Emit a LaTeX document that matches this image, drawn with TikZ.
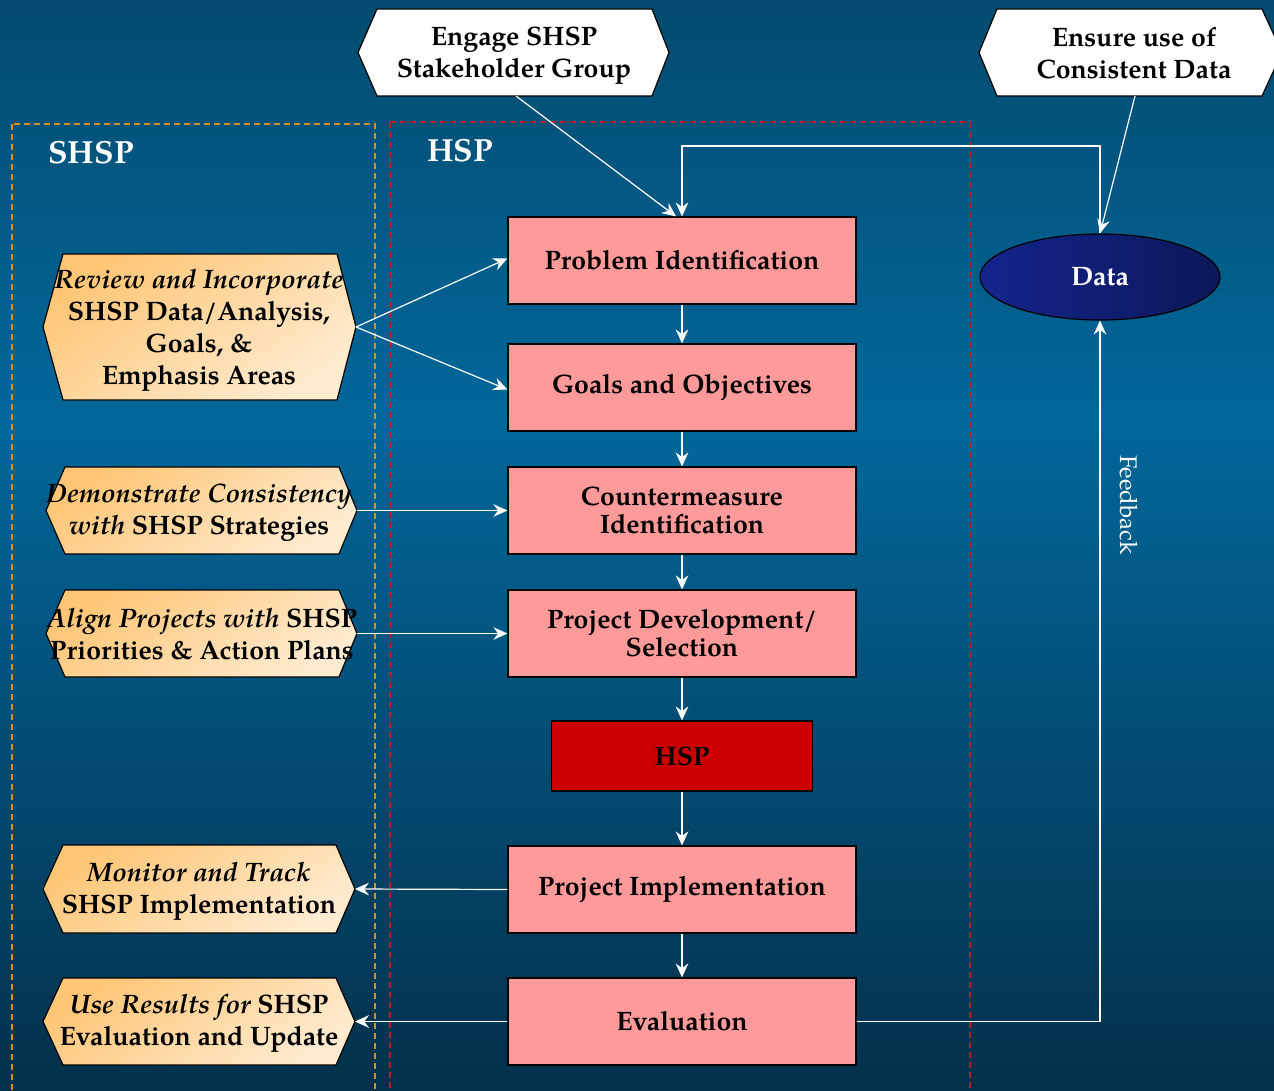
\documentclass[tikz,border=0pt]{standalone}
\usepackage{fontspec}
\setmainfont{TeX Gyre Pagella}
\usetikzlibrary{arrows.meta,shapes.geometric}
\definecolor{bgtop}{HTML}{034B6F}
\definecolor{bgmid}{HTML}{02679B}
\definecolor{bgbot}{HTML}{03304A}
\definecolor{pinkbox}{HTML}{FF9A9A}
\definecolor{redbox}{HTML}{CC0000}
\definecolor{orA}{HTML}{FFC676}
\definecolor{orB}{HTML}{FFEBD0}
\definecolor{dashor}{HTML}{D8901E}
\definecolor{dashred}{HTML}{B0202A}
\definecolor{navyA}{HTML}{14248C}
\definecolor{navyB}{HTML}{0B1858}
\newcommand{\hexshape}[8]{% style, name, xl, x1, x2, xr, yt, yb
  \path[#1] (#3,{(#7+#8)/2}) -- (#4,#7) -- (#5,#7) -- (#6,{(#7+#8)/2}) -- (#5,#8) -- (#4,#8) -- cycle;
  \coordinate (#2-w) at (#3,{(#7+#8)/2});
  \coordinate (#2-e) at (#6,{(#7+#8)/2});
}
\begin{document}
\begin{tikzpicture}[x=0.75pt,y=-0.75pt,
  stepbox/.style={draw=black, line width=0.9pt, fill=pinkbox, minimum width=261pt, minimum height=65.25pt,
    font=\fontsize{20}{21}\selectfont\bfseries, align=center, inner sep=0pt},
  hspbox/.style={stepbox, fill=redbox, minimum width=195.75pt, minimum height=52.5pt},
  orhex/.style={draw=black, line width=0.9pt, top color=orA, bottom color=orB, shading angle=35},
  whhex/.style={draw=black, line width=0.9pt, fill=white},
  hextext/.style={font=\fontsize{20}{24}\selectfont\bfseries, align=center, inner sep=0pt, text=black},
  title/.style={font=\fontsize{24}{26}\selectfont\bfseries, text=white, inner sep=0pt},
  flow/.style={draw=white, line width=0.9pt, -{Stealth[length=10.5pt,width=9.5pt,inset=3.5pt]}},
  framebox/.style={dashed, dash pattern=on 4.5pt off 3pt, line width=0.8pt}
]
\useasboundingbox (0,0) rectangle (1274,1091);
% background
\shade[top color=bgtop, bottom color=bgmid] (0,0) rectangle (1274,420);
\shade[top color=bgmid, bottom color=bgbot] (0,419) rectangle (1274,1091);
% frames
\draw[framebox, draw=dashor] (12,124) rectangle (375,1110);
\draw[framebox, draw=dashred] (390,122) rectangle (970,1110);
\node[title] (tshsp) at (91,153) {SHSP};
\node[title] (thsp) at (460,151) {HSP};
% top hexagons
\hexshape{whhex}{eng}{358}{377}{652}{669}{9}{96}
\node[hextext] (engt) at (514,56) {Engage SHSP\\Stakeholder Group};
\coordinate (eng-s) at (516,96);
\hexshape{whhex}{ens}{979}{997}{1262}{1282}{9}{96}
\node[hextext] (enst) at (1134,53) {Ensure use of\\Consistent Data};
\coordinate (ens-s) at (1135,96);
% left hexagons
\hexshape{orhex}{rev}{43}{63}{337}{356}{254}{400}
\node[hextext] (revt) at (199,330) {\itshape Review and Incorporate\\SHSP Data/Analysis,\\Goals, \&\\Emphasis Areas};
\hexshape{orhex}{dem}{46}{65}{339}{357}{467}{554}
\node[hextext] (demt) at (199,513) {{\itshape Demonstrate Consistency}\\{\itshape with} SHSP Strategies};
\hexshape{orhex}{ali}{46}{65}{339}{357}{590}{677}
\node[hextext] (alit) at (202,634) {{\itshape Align Projects with} SHSP\\Priorities \& Action Plans};
\hexshape{orhex}{mon}{43}{63}{336}{355}{845}{933}
\node[hextext] (mont) at (199,891.5) {{\itshape Monitor and Track}\\SHSP Implementation};
\hexshape{orhex}{use}{43}{63}{336}{355}{978}{1065}
\node[hextext] (uset) at (199,1023.5) {{\itshape Use Results for} SHSP\\Evaluation and Update};
% central boxes
\node[stepbox] (pi) at (682,260.5) {Problem Identification};
\node[stepbox] (go) at (682,387.5) {Goals and Objectives};
\node[stepbox] (cm) at (682,510.5) {Countermeasure\\Identification};
\node[stepbox] (pd) at (682,633.5) {Project Development/\\Selection};
\node[hspbox] (hsp) at (682,756) {HSP};
\node[stepbox] (im) at (682,889.5) {Project Implementation};
\node[stepbox] (ev) at (682,1021.5) {Evaluation};
% data
\node[ellipse, draw=black, line width=0.9pt, left color=navyA, right color=navyB,
  minimum width=180pt, minimum height=64.5pt, inner sep=0pt,
  font=\fontsize{20}{21}\selectfont\bfseries, text=white] (data) at (1100,277) {Data};
\node[rotate=-90, text=white, font=\fontsize{18}{20}\selectfont, inner sep=0pt] (fb) at (1129,505) {Feedback};
\coordinate (loop) at (900,146);
% connectors
\draw[flow] (eng-s) -- ([xshift=-4.5pt]pi.north);
\draw[flow] (data.north) |- (loop) -| (pi.north);
\draw[flow] (ens-s) -- (data.north);
\draw[flow] (ev.east) -| (data.south);
\draw[flow] (rev-e) -- ([yshift=1.5pt]pi.west);
\draw[flow] (rev-e) -- ([yshift=-1.5pt]go.west);
\draw[flow] (dem-e) -- (cm.west);
\draw[flow] (ali-e) -- (pd.west);
\draw[flow] (im.west) -- (mon-e);
\draw[flow] (ev.west) -- (use-e);
\draw[flow] (pi.south) -- (go.north);
\draw[flow] (go.south) -- (cm.north);
\draw[flow] (cm.south) -- (pd.north);
\draw[flow] (pd.south) -- (hsp.north);
\draw[flow] (hsp.south) -- (im.north);
\draw[flow] (im.south) -- (ev.north);
\end{tikzpicture}
\end{document}
